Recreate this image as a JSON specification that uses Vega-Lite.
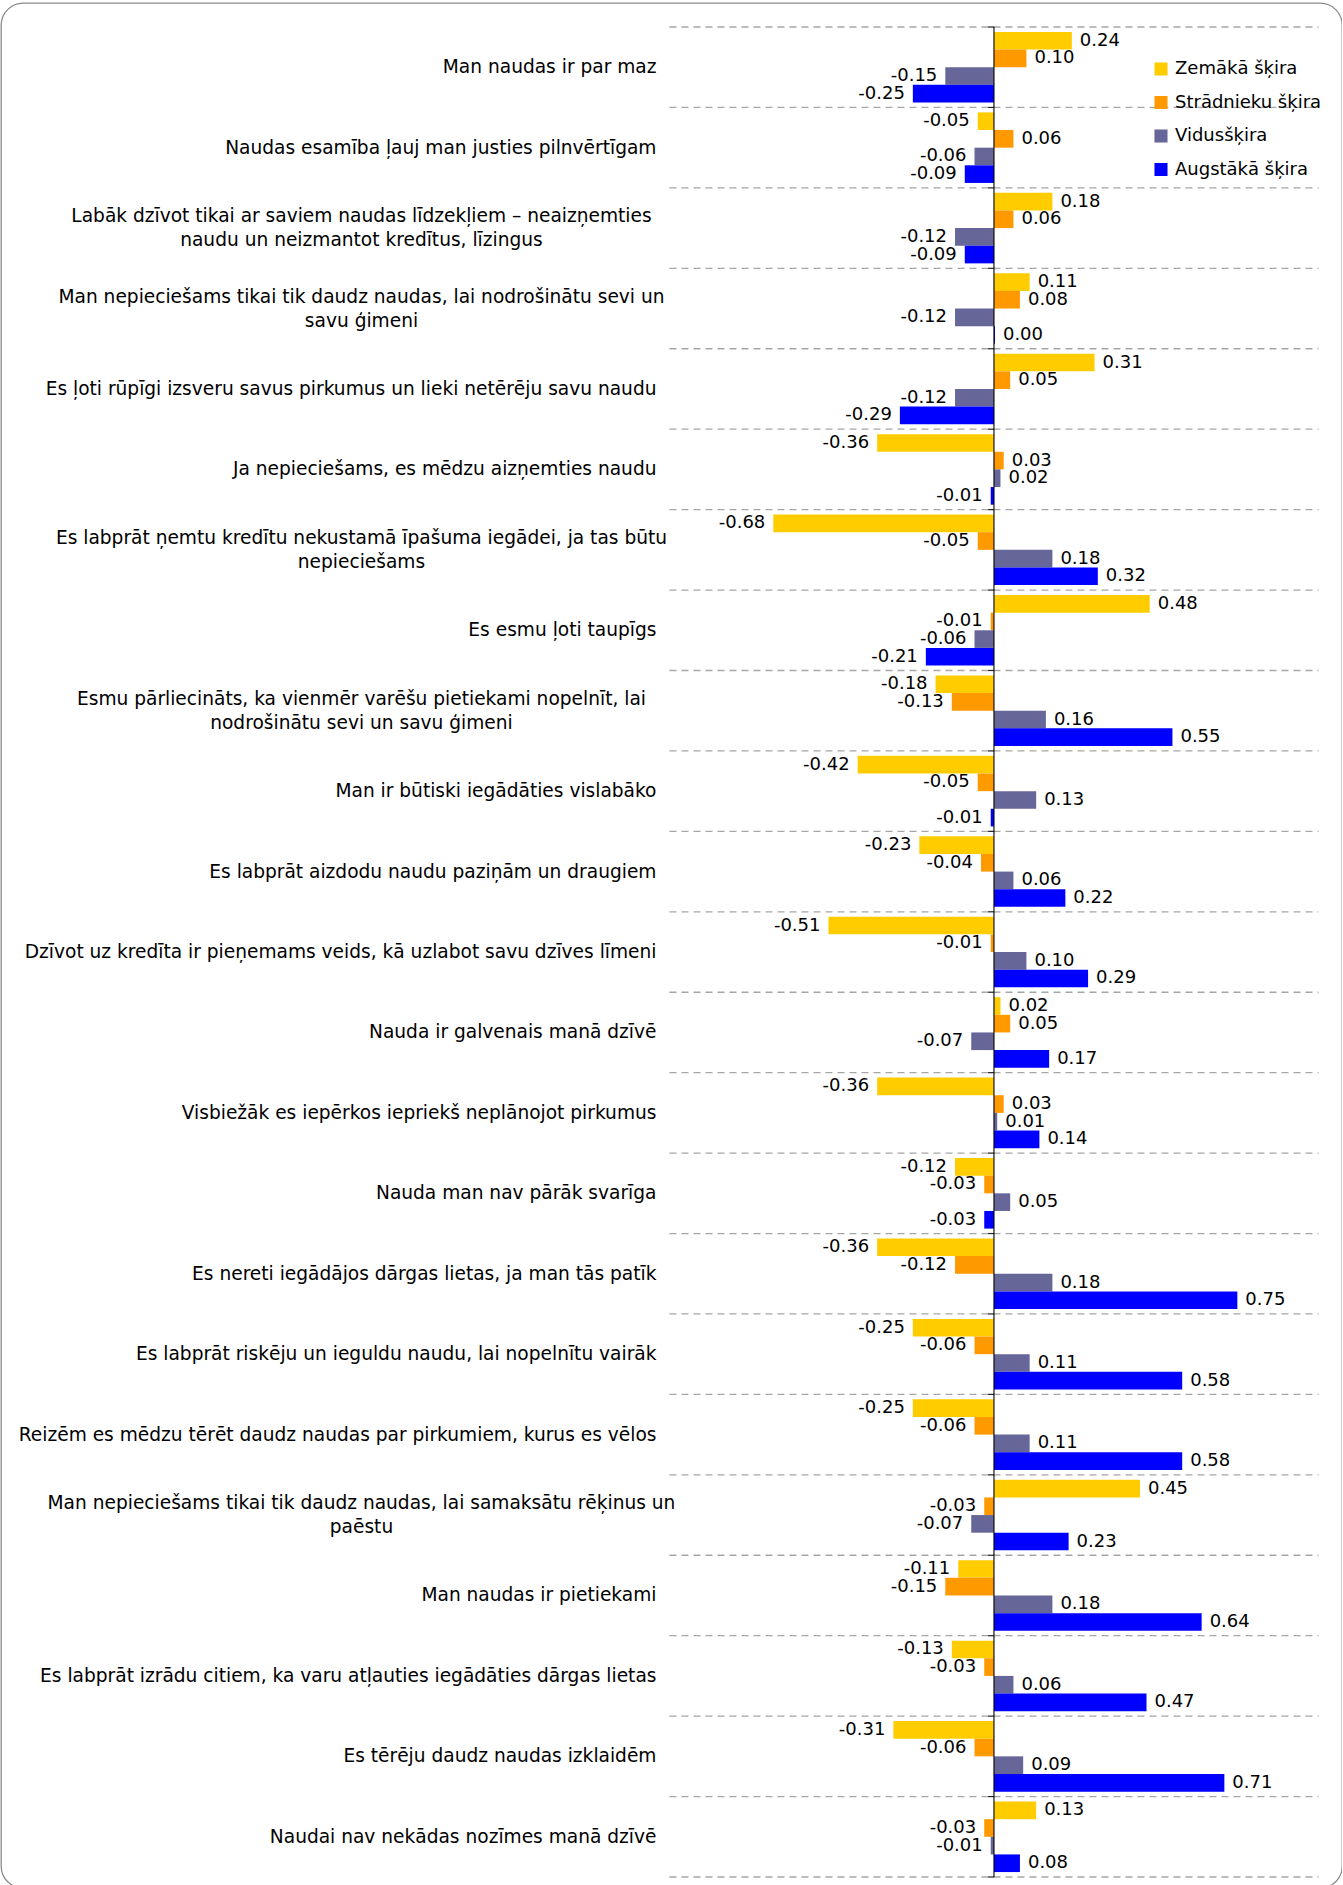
{
  "$schema": "https://vega.github.io/schema/vega-lite/v6.json",
  "width": 1341,
  "height": 1885,
  "padding": {"left": 1, "top": 3, "right": 0, "bottom": 0},
  "autosize": {"type": "pad"},
  "config": {
    "view": {"stroke": "#8a8a8a", "strokeWidth": 1.3, "cornerRadius": 22},
    "font": "DejaVu Sans",
    "locale": {"number": {"decimal": ".", "thousands": ",", "grouping": [3], "currency": ["", ""], "minus": "-"}}
  },
  "datasets": {
    "cats": [
      {"cat": "Man naudas ir par maz", "label": "Man naudas ir par maz"},
      {"cat": "Naudas esamība ļauj man justies pilnvērtīgam", "label": "Naudas esamība ļauj man justies pilnvērtīgam"},
      {"cat": "Labāk dzīvot tikai ar saviem naudas līdzekļiem – neaizņemties naudu un neizmantot kredītus, līzingus", "label": "Labāk dzīvot tikai ar saviem naudas līdzekļiem – neaizņemties\nnaudu un neizmantot kredītus, līzingus"},
      {"cat": "Man nepieciešams tikai tik daudz naudas, lai nodrošinātu sevi un savu ģimeni", "label": "Man nepieciešams tikai tik daudz naudas, lai nodrošinātu sevi un\nsavu ģimeni"},
      {"cat": "Es ļoti rūpīgi izsveru savus pirkumus un lieki netērēju savu naudu", "label": "Es ļoti rūpīgi izsveru savus pirkumus un lieki netērēju savu naudu"},
      {"cat": "Ja nepieciešams, es mēdzu aizņemties naudu", "label": "Ja nepieciešams, es mēdzu aizņemties naudu"},
      {"cat": "Es labprāt ņemtu kredītu nekustamā īpašuma iegādei, ja tas būtu nepieciešams", "label": "Es labprāt ņemtu kredītu nekustamā īpašuma iegādei, ja tas būtu\nnepieciešams"},
      {"cat": "Es esmu ļoti taupīgs", "label": "Es esmu ļoti taupīgs"},
      {"cat": "Esmu pārliecināts, ka vienmēr varēšu pietiekami nopelnīt, lai nodrošinātu sevi un savu ģimeni", "label": "Esmu pārliecināts, ka vienmēr varēšu pietiekami nopelnīt, lai\nnodrošinātu sevi un savu ģimeni"},
      {"cat": "Man ir būtiski iegādāties vislabāko", "label": "Man ir būtiski iegādāties vislabāko"},
      {"cat": "Es labprāt aizdodu naudu paziņām un draugiem", "label": "Es labprāt aizdodu naudu paziņām un draugiem"},
      {"cat": "Dzīvot uz kredīta ir pieņemams veids, kā uzlabot savu dzīves līmeni", "label": "Dzīvot uz kredīta ir pieņemams veids, kā uzlabot savu dzīves līmeni"},
      {"cat": "Nauda ir galvenais manā dzīvē", "label": "Nauda ir galvenais manā dzīvē"},
      {"cat": "Visbiežāk es iepērkos iepriekš neplānojot pirkumus", "label": "Visbiežāk es iepērkos iepriekš neplānojot pirkumus"},
      {"cat": "Nauda man nav pārāk svarīga", "label": "Nauda man nav pārāk svarīga"},
      {"cat": "Es nereti iegādājos dārgas lietas, ja man tās patīk", "label": "Es nereti iegādājos dārgas lietas, ja man tās patīk"},
      {"cat": "Es labprāt riskēju un ieguldu naudu, lai nopelnītu vairāk", "label": "Es labprāt riskēju un ieguldu naudu, lai nopelnītu vairāk"},
      {"cat": "Reizēm es mēdzu tērēt daudz naudas par pirkumiem, kurus es vēlos", "label": "Reizēm es mēdzu tērēt daudz naudas par pirkumiem, kurus es vēlos"},
      {"cat": "Man nepieciešams tikai tik daudz naudas, lai samaksātu rēķinus un paēstu", "label": "Man nepieciešams tikai tik daudz naudas, lai samaksātu rēķinus un\npaēstu"},
      {"cat": "Man naudas ir pietiekami", "label": "Man naudas ir pietiekami"},
      {"cat": "Es labprāt izrādu citiem, ka varu atļauties iegādāties dārgas lietas", "label": "Es labprāt izrādu citiem, ka varu atļauties iegādāties dārgas lietas"},
      {"cat": "Es tērēju daudz naudas izklaidēm", "label": "Es tērēju daudz naudas izklaidēm"},
      {"cat": "Naudai nav nekādas nozīmes manā dzīvē", "label": "Naudai nav nekādas nozīmes manā dzīvē"}
    ],
    "bars": [
      {"cat": "Man naudas ir par maz", "group": "Zemākā šķira", "value": 0.24},
      {"cat": "Man naudas ir par maz", "group": "Strādnieku šķira", "value": 0.10},
      {"cat": "Man naudas ir par maz", "group": "Vidusšķira", "value": -0.15},
      {"cat": "Man naudas ir par maz", "group": "Augstākā šķira", "value": -0.25},
      {"cat": "Naudas esamība ļauj man justies pilnvērtīgam", "group": "Zemākā šķira", "value": -0.05},
      {"cat": "Naudas esamība ļauj man justies pilnvērtīgam", "group": "Strādnieku šķira", "value": 0.06},
      {"cat": "Naudas esamība ļauj man justies pilnvērtīgam", "group": "Vidusšķira", "value": -0.06},
      {"cat": "Naudas esamība ļauj man justies pilnvērtīgam", "group": "Augstākā šķira", "value": -0.09},
      {"cat": "Labāk dzīvot tikai ar saviem naudas līdzekļiem – neaizņemties naudu un neizmantot kredītus, līzingus", "group": "Zemākā šķira", "value": 0.18},
      {"cat": "Labāk dzīvot tikai ar saviem naudas līdzekļiem – neaizņemties naudu un neizmantot kredītus, līzingus", "group": "Strādnieku šķira", "value": 0.06},
      {"cat": "Labāk dzīvot tikai ar saviem naudas līdzekļiem – neaizņemties naudu un neizmantot kredītus, līzingus", "group": "Vidusšķira", "value": -0.12},
      {"cat": "Labāk dzīvot tikai ar saviem naudas līdzekļiem – neaizņemties naudu un neizmantot kredītus, līzingus", "group": "Augstākā šķira", "value": -0.09},
      {"cat": "Man nepieciešams tikai tik daudz naudas, lai nodrošinātu sevi un savu ģimeni", "group": "Zemākā šķira", "value": 0.11},
      {"cat": "Man nepieciešams tikai tik daudz naudas, lai nodrošinātu sevi un savu ģimeni", "group": "Strādnieku šķira", "value": 0.08},
      {"cat": "Man nepieciešams tikai tik daudz naudas, lai nodrošinātu sevi un savu ģimeni", "group": "Vidusšķira", "value": -0.12},
      {"cat": "Man nepieciešams tikai tik daudz naudas, lai nodrošinātu sevi un savu ģimeni", "group": "Augstākā šķira", "value": 0.003},
      {"cat": "Es ļoti rūpīgi izsveru savus pirkumus un lieki netērēju savu naudu", "group": "Zemākā šķira", "value": 0.31},
      {"cat": "Es ļoti rūpīgi izsveru savus pirkumus un lieki netērēju savu naudu", "group": "Strādnieku šķira", "value": 0.05},
      {"cat": "Es ļoti rūpīgi izsveru savus pirkumus un lieki netērēju savu naudu", "group": "Vidusšķira", "value": -0.12},
      {"cat": "Es ļoti rūpīgi izsveru savus pirkumus un lieki netērēju savu naudu", "group": "Augstākā šķira", "value": -0.29},
      {"cat": "Ja nepieciešams, es mēdzu aizņemties naudu", "group": "Zemākā šķira", "value": -0.36},
      {"cat": "Ja nepieciešams, es mēdzu aizņemties naudu", "group": "Strādnieku šķira", "value": 0.03},
      {"cat": "Ja nepieciešams, es mēdzu aizņemties naudu", "group": "Vidusšķira", "value": 0.02},
      {"cat": "Ja nepieciešams, es mēdzu aizņemties naudu", "group": "Augstākā šķira", "value": -0.01},
      {"cat": "Es labprāt ņemtu kredītu nekustamā īpašuma iegādei, ja tas būtu nepieciešams", "group": "Zemākā šķira", "value": -0.68},
      {"cat": "Es labprāt ņemtu kredītu nekustamā īpašuma iegādei, ja tas būtu nepieciešams", "group": "Strādnieku šķira", "value": -0.05},
      {"cat": "Es labprāt ņemtu kredītu nekustamā īpašuma iegādei, ja tas būtu nepieciešams", "group": "Vidusšķira", "value": 0.18},
      {"cat": "Es labprāt ņemtu kredītu nekustamā īpašuma iegādei, ja tas būtu nepieciešams", "group": "Augstākā šķira", "value": 0.32},
      {"cat": "Es esmu ļoti taupīgs", "group": "Zemākā šķira", "value": 0.48},
      {"cat": "Es esmu ļoti taupīgs", "group": "Strādnieku šķira", "value": -0.01},
      {"cat": "Es esmu ļoti taupīgs", "group": "Vidusšķira", "value": -0.06},
      {"cat": "Es esmu ļoti taupīgs", "group": "Augstākā šķira", "value": -0.21},
      {"cat": "Esmu pārliecināts, ka vienmēr varēšu pietiekami nopelnīt, lai nodrošinātu sevi un savu ģimeni", "group": "Zemākā šķira", "value": -0.18},
      {"cat": "Esmu pārliecināts, ka vienmēr varēšu pietiekami nopelnīt, lai nodrošinātu sevi un savu ģimeni", "group": "Strādnieku šķira", "value": -0.13},
      {"cat": "Esmu pārliecināts, ka vienmēr varēšu pietiekami nopelnīt, lai nodrošinātu sevi un savu ģimeni", "group": "Vidusšķira", "value": 0.16},
      {"cat": "Esmu pārliecināts, ka vienmēr varēšu pietiekami nopelnīt, lai nodrošinātu sevi un savu ģimeni", "group": "Augstākā šķira", "value": 0.55},
      {"cat": "Man ir būtiski iegādāties vislabāko", "group": "Zemākā šķira", "value": -0.42},
      {"cat": "Man ir būtiski iegādāties vislabāko", "group": "Strādnieku šķira", "value": -0.05},
      {"cat": "Man ir būtiski iegādāties vislabāko", "group": "Vidusšķira", "value": 0.13},
      {"cat": "Man ir būtiski iegādāties vislabāko", "group": "Augstākā šķira", "value": -0.01},
      {"cat": "Es labprāt aizdodu naudu paziņām un draugiem", "group": "Zemākā šķira", "value": -0.23},
      {"cat": "Es labprāt aizdodu naudu paziņām un draugiem", "group": "Strādnieku šķira", "value": -0.04},
      {"cat": "Es labprāt aizdodu naudu paziņām un draugiem", "group": "Vidusšķira", "value": 0.06},
      {"cat": "Es labprāt aizdodu naudu paziņām un draugiem", "group": "Augstākā šķira", "value": 0.22},
      {"cat": "Dzīvot uz kredīta ir pieņemams veids, kā uzlabot savu dzīves līmeni", "group": "Zemākā šķira", "value": -0.51},
      {"cat": "Dzīvot uz kredīta ir pieņemams veids, kā uzlabot savu dzīves līmeni", "group": "Strādnieku šķira", "value": -0.01},
      {"cat": "Dzīvot uz kredīta ir pieņemams veids, kā uzlabot savu dzīves līmeni", "group": "Vidusšķira", "value": 0.10},
      {"cat": "Dzīvot uz kredīta ir pieņemams veids, kā uzlabot savu dzīves līmeni", "group": "Augstākā šķira", "value": 0.29},
      {"cat": "Nauda ir galvenais manā dzīvē", "group": "Zemākā šķira", "value": 0.02},
      {"cat": "Nauda ir galvenais manā dzīvē", "group": "Strādnieku šķira", "value": 0.05},
      {"cat": "Nauda ir galvenais manā dzīvē", "group": "Vidusšķira", "value": -0.07},
      {"cat": "Nauda ir galvenais manā dzīvē", "group": "Augstākā šķira", "value": 0.17},
      {"cat": "Visbiežāk es iepērkos iepriekš neplānojot pirkumus", "group": "Zemākā šķira", "value": -0.36},
      {"cat": "Visbiežāk es iepērkos iepriekš neplānojot pirkumus", "group": "Strādnieku šķira", "value": 0.03},
      {"cat": "Visbiežāk es iepērkos iepriekš neplānojot pirkumus", "group": "Vidusšķira", "value": 0.01},
      {"cat": "Visbiežāk es iepērkos iepriekš neplānojot pirkumus", "group": "Augstākā šķira", "value": 0.14},
      {"cat": "Nauda man nav pārāk svarīga", "group": "Zemākā šķira", "value": -0.12},
      {"cat": "Nauda man nav pārāk svarīga", "group": "Strādnieku šķira", "value": -0.03},
      {"cat": "Nauda man nav pārāk svarīga", "group": "Vidusšķira", "value": 0.05},
      {"cat": "Nauda man nav pārāk svarīga", "group": "Augstākā šķira", "value": -0.03},
      {"cat": "Es nereti iegādājos dārgas lietas, ja man tās patīk", "group": "Zemākā šķira", "value": -0.36},
      {"cat": "Es nereti iegādājos dārgas lietas, ja man tās patīk", "group": "Strādnieku šķira", "value": -0.12},
      {"cat": "Es nereti iegādājos dārgas lietas, ja man tās patīk", "group": "Vidusšķira", "value": 0.18},
      {"cat": "Es nereti iegādājos dārgas lietas, ja man tās patīk", "group": "Augstākā šķira", "value": 0.75},
      {"cat": "Es labprāt riskēju un ieguldu naudu, lai nopelnītu vairāk", "group": "Zemākā šķira", "value": -0.25},
      {"cat": "Es labprāt riskēju un ieguldu naudu, lai nopelnītu vairāk", "group": "Strādnieku šķira", "value": -0.06},
      {"cat": "Es labprāt riskēju un ieguldu naudu, lai nopelnītu vairāk", "group": "Vidusšķira", "value": 0.11},
      {"cat": "Es labprāt riskēju un ieguldu naudu, lai nopelnītu vairāk", "group": "Augstākā šķira", "value": 0.58},
      {"cat": "Reizēm es mēdzu tērēt daudz naudas par pirkumiem, kurus es vēlos", "group": "Zemākā šķira", "value": -0.25},
      {"cat": "Reizēm es mēdzu tērēt daudz naudas par pirkumiem, kurus es vēlos", "group": "Strādnieku šķira", "value": -0.06},
      {"cat": "Reizēm es mēdzu tērēt daudz naudas par pirkumiem, kurus es vēlos", "group": "Vidusšķira", "value": 0.11},
      {"cat": "Reizēm es mēdzu tērēt daudz naudas par pirkumiem, kurus es vēlos", "group": "Augstākā šķira", "value": 0.58},
      {"cat": "Man nepieciešams tikai tik daudz naudas, lai samaksātu rēķinus un paēstu", "group": "Zemākā šķira", "value": 0.45},
      {"cat": "Man nepieciešams tikai tik daudz naudas, lai samaksātu rēķinus un paēstu", "group": "Strādnieku šķira", "value": -0.03},
      {"cat": "Man nepieciešams tikai tik daudz naudas, lai samaksātu rēķinus un paēstu", "group": "Vidusšķira", "value": -0.07},
      {"cat": "Man nepieciešams tikai tik daudz naudas, lai samaksātu rēķinus un paēstu", "group": "Augstākā šķira", "value": 0.23},
      {"cat": "Man naudas ir pietiekami", "group": "Zemākā šķira", "value": -0.11},
      {"cat": "Man naudas ir pietiekami", "group": "Strādnieku šķira", "value": -0.15},
      {"cat": "Man naudas ir pietiekami", "group": "Vidusšķira", "value": 0.18},
      {"cat": "Man naudas ir pietiekami", "group": "Augstākā šķira", "value": 0.64},
      {"cat": "Es labprāt izrādu citiem, ka varu atļauties iegādāties dārgas lietas", "group": "Zemākā šķira", "value": -0.13},
      {"cat": "Es labprāt izrādu citiem, ka varu atļauties iegādāties dārgas lietas", "group": "Strādnieku šķira", "value": -0.03},
      {"cat": "Es labprāt izrādu citiem, ka varu atļauties iegādāties dārgas lietas", "group": "Vidusšķira", "value": 0.06},
      {"cat": "Es labprāt izrādu citiem, ka varu atļauties iegādāties dārgas lietas", "group": "Augstākā šķira", "value": 0.47},
      {"cat": "Es tērēju daudz naudas izklaidēm", "group": "Zemākā šķira", "value": -0.31},
      {"cat": "Es tērēju daudz naudas izklaidēm", "group": "Strādnieku šķira", "value": -0.06},
      {"cat": "Es tērēju daudz naudas izklaidēm", "group": "Vidusšķira", "value": 0.09},
      {"cat": "Es tērēju daudz naudas izklaidēm", "group": "Augstākā šķira", "value": 0.71},
      {"cat": "Naudai nav nekādas nozīmes manā dzīvē", "group": "Zemākā šķira", "value": 0.13},
      {"cat": "Naudai nav nekādas nozīmes manā dzīvē", "group": "Strādnieku šķira", "value": -0.03},
      {"cat": "Naudai nav nekādas nozīmes manā dzīvē", "group": "Vidusšķira", "value": -0.01},
      {"cat": "Naudai nav nekādas nozīmes manā dzīvē", "group": "Augstākā šķira", "value": 0.08}
    ]
  },
  "encoding": {
    "y": {
      "field": "cat", "type": "nominal", "sort": null, "axis": null,
      "scale": {"paddingInner": 0, "paddingOuter": 0.2176, "align": 0.686}
    }
  },
  "layer": [
    {
      "data": {"name": "cats"},
      "mark": {"type": "rule", "color": "#a6a6a6", "strokeWidth": 1.3, "strokeDash": [7, 5]},
      "encoding": {
        "y": {"field": "cat", "type": "nominal", "sort": null, "bandPosition": 0},
        "x": {"datum": -1, "type": "quantitative", "scale": {"domain": [-3.06, 1.0725], "nice": false, "zero": false}, "axis": null},
        "x2": {"datum": 1}
      }
    },
    {
      "data": {"name": "cats"},
      "transform": [{"filter": "datum.cat == 'Naudai nav nekādas nozīmes manā dzīvē'"}],
      "mark": {"type": "rule", "color": "#a6a6a6", "strokeWidth": 1.3, "strokeDash": [7, 5]},
      "encoding": {
        "y": {"field": "cat", "type": "nominal", "sort": null, "bandPosition": 1},
        "x": {"datum": -1, "type": "quantitative"},
        "x2": {"datum": 1}
      }
    },
    {
      "data": {"name": "cats"},
      "mark": {"type": "rule", "color": "#222222", "strokeWidth": 1.2},
      "encoding": {
        "y": {"field": "cat", "type": "nominal", "sort": null, "bandPosition": 0},
        "x": {"datum": -0.018, "type": "quantitative"},
        "x2": {"datum": 0}
      }
    },
    {
      "data": {"name": "cats"},
      "transform": [{"filter": "datum.cat == 'Naudai nav nekādas nozīmes manā dzīvē'"}],
      "mark": {"type": "rule", "color": "#222222", "strokeWidth": 1.2},
      "encoding": {
        "y": {"field": "cat", "type": "nominal", "sort": null, "bandPosition": 1},
        "x": {"datum": -0.018, "type": "quantitative"},
        "x2": {"datum": 0}
      }
    },
    {
      "data": {"name": "bars"},
      "mark": {"type": "bar"},
      "encoding": {
        "yOffset": {"field": "group", "type": "nominal", "sort": null, "scale": {"paddingInner": 0, "paddingOuter": 0.28}},
        "x": {"field": "value", "type": "quantitative", "stack": null},
        "x2": {"datum": 0},
        "color": {
          "field": "group", "type": "nominal",
          "scale": {"domain": ["Zemākā šķira", "Strādnieku šķira", "Vidusšķira", "Augstākā šķira"], "range": ["#FFCC00", "#FF9900", "#666699", "#0000FF"]},
          "legend": {
            "title": null, "orient": "none", "legendX": 1151, "legendY": 57,
            "symbolType": "square", "symbolSize": 170, "symbolStrokeWidth": 0,
            "labelFontSize": 18, "labelFont": "DejaVu Sans", "labelColor": "#000000",
            "rowPadding": 15.5, "labelOffset": 5, "padding": 0
          }
        }
      }
    },
    {
      "data": {"name": "cats"},
      "mark": {"type": "bar", "fill": "#000000", "stroke": null},
      "encoding": {
        "x": {"datum": -0.0017, "type": "quantitative"},
        "x2": {"datum": 0.0017}
      }
    },
    {
      "data": {"name": "bars"},
      "transform": [{"filter": "datum.value >= 0"}],
      "mark": {"type": "text", "align": "left", "baseline": "middle", "dx": 8, "fontSize": 18, "font": "DejaVu Sans", "color": "#000000"},
      "encoding": {
        "yOffset": {"field": "group", "type": "nominal", "sort": null},
        "x": {"field": "value", "type": "quantitative"},
        "text": {"field": "value", "type": "quantitative", "format": ".2f"}
      }
    },
    {
      "data": {"name": "bars"},
      "transform": [{"filter": "datum.value < 0"}],
      "mark": {"type": "text", "align": "right", "baseline": "middle", "dx": -8, "fontSize": 18, "font": "DejaVu Sans", "color": "#000000"},
      "encoding": {
        "yOffset": {"field": "group", "type": "nominal", "sort": null},
        "x": {"field": "value", "type": "quantitative"},
        "text": {"field": "value", "type": "quantitative", "format": ".2f"}
      }
    },
    {
      "data": {"name": "cats"},
      "transform": [{"filter": "indexof(datum.label, '\\n') < 0"}],
      "mark": {"type": "text", "align": "right", "baseline": "middle", "dx": -13, "fontSize": 18.6, "font": "DejaVu Sans", "color": "#000000"},
      "encoding": {
        "x": {"datum": -1, "type": "quantitative"},
        "text": {"field": "label"}
      }
    },
    {
      "data": {"name": "cats"},
      "transform": [{"filter": "indexof(datum.label, '\\n') >= 0"}],
      "mark": {"type": "text", "align": "center", "baseline": "middle", "dx": -308, "dy": -12, "fontSize": 18.6, "lineBreak": "\n", "lineHeight": 24, "font": "DejaVu Sans", "color": "#000000"},
      "encoding": {
        "x": {"datum": -1, "type": "quantitative"},
        "text": {"field": "label"}
      }
    }
  ]
}
